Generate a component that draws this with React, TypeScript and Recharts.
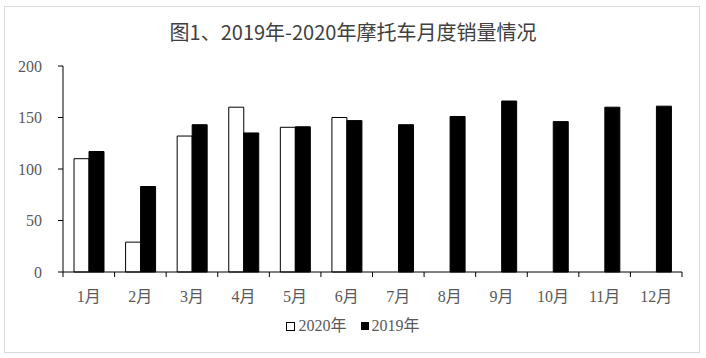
import React from "react";
import { BarChart, Bar, XAxis, YAxis } from "recharts";

// ---------------------------------------------------------------------------
// Data
// ---------------------------------------------------------------------------

const MONTHS = ["1月", "2月", "3月", "4月", "5月", "6月", "7月", "8月", "9月", "10月", "11月", "12月"];
const SALES_2020 = [110, 29, 132, 160, 140.5, 150, null, null, null, null, null, null];
const SALES_2019 = [117, 83, 143, 135, 141, 147, 143, 151, 166, 146, 160, 161];
const Y_TICKS = [0, 50, 100, 150, 200];

const TITLE = "图1、2019年-2020年摩托车月度销量情况";

const data = MONTHS.map((m, i) => ({ month: m, y2020: SALES_2020[i], y2019: SALES_2019[i] }));

// ---------------------------------------------------------------------------
// Layout
// ---------------------------------------------------------------------------

const W = 706;
const H = 358;
const PLOT_LEFT = 63;
const PLOT_RIGHT = 682;
const BAND = (PLOT_RIGHT - PLOT_LEFT) / MONTHS.length;
const LABEL_FONT = '"Liberation Serif", "Noto Sans CJK SC", serif';

// eslint-disable-next-line @typescript-eslint/no-explicit-any
function MonthTick(props: any) {
  const { x, y, payload, index } = props;
  const half = BAND / 2;
  return (
    <g>
      <line x1={x - half} x2={x - half} y1={y} y2={y + 5} stroke="#000" />
      {index === MONTHS.length - 1 && (
        <line x1={x + half} x2={x + half} y1={y} y2={y + 5} stroke="#000" />
      )}
      <text
        x={x}
        y={y + 30}
        textAnchor="middle"
        fill="#595959"
        fontSize={16}
        fontFamily={LABEL_FONT}
      >
        {payload.value}
      </text>
    </g>
  );
}

export default function App() {
  return (
    <div style={{ position: "absolute", left: 0, top: 0, width: W, height: H, background: "#fff" }}>
      {/* Frame */}
      <div
        style={{
          position: "absolute",
          left: 4,
          top: 6,
          width: 694,
          height: 345,
          border: "1px solid #d9d9d9",
        }}
      />

      {/* Title */}
      <div
        style={{
          position: "absolute",
          left: 0,
          top: 19,
          width: W,
          textAlign: "center",
          fontFamily: '"Noto Sans CJK SC", sans-serif',
          fontSize: 20,
          color: "#404040",
          lineHeight: "26px",
        }}
      >
        {TITLE}
      </div>

      <div style={{ position: "absolute", left: 0, top: 0 }}>
        <BarChart
          width={W}
          height={H}
          data={data}
          margin={{ top: 66, right: W - PLOT_RIGHT, left: 0, bottom: 0 }}
          barGap={0}
          barSize={15}
        >
          <XAxis
            dataKey="month"
            height={86}
            axisLine={{ stroke: "#000" }}
            tickLine={false}
            tickSize={0}
            tickMargin={0}
            interval={0}
            tick={<MonthTick />}
          />
          <YAxis
            width={PLOT_LEFT}
            domain={[0, 200]}
            ticks={Y_TICKS}
            axisLine={{ stroke: "#000" }}
            tickLine={{ stroke: "#000" }}
            tickSize={5}
            tickMargin={16}
            tick={{ fill: "#595959", fontSize: 16, fontFamily: LABEL_FONT }}
          />
          <Bar dataKey="y2020" fill="#fff" stroke="#000" strokeWidth={1} isAnimationActive={false} />
          <Bar dataKey="y2019" fill="#000" stroke="#000" strokeWidth={1} isAnimationActive={false} />
        </BarChart>
      </div>

      {/* Legend */}
      <div
        style={{
          position: "absolute",
          left: 0,
          top: 316,
          width: W,
          display: "flex",
          justifyContent: "center",
          alignItems: "center",
          fontFamily: LABEL_FONT,
          fontSize: 16,
          color: "#595959",
          lineHeight: "20px",
        }}
      >
        <span style={{ width: 7, height: 7, border: "1px solid #000", background: "#fff", marginRight: 3 }} />
        <span style={{ marginRight: 14 }}>2020年</span>
        <span style={{ width: 8, height: 8, background: "#000", marginRight: 3 }} />
        <span>2019年</span>
      </div>
    </div>
  );
}
